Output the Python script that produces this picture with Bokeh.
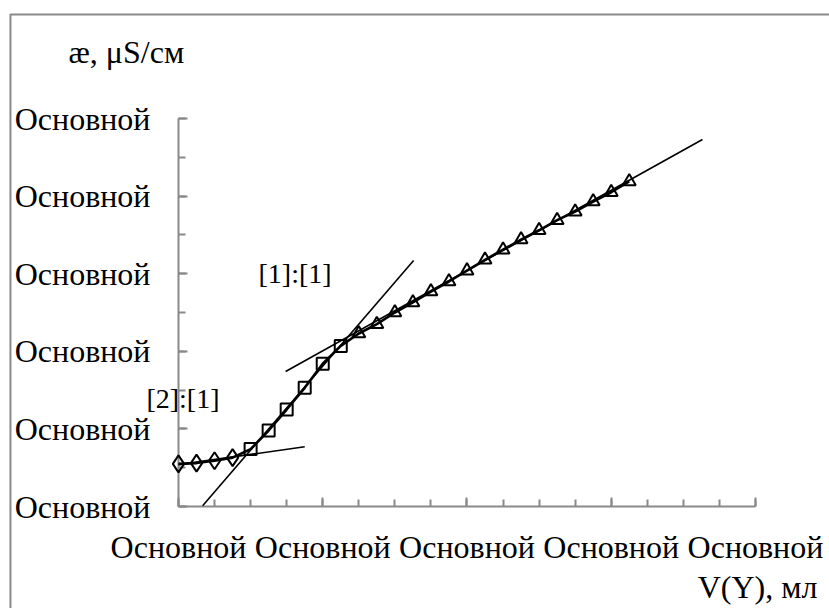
from bokeh.plotting import figure
from bokeh.models import FixedTicker, Label, BoxAnnotation
from bokeh.embed import file_html
from bokeh.resources import INLINE

# Conductometric titration: conductivity vs added titrant volume
v_diamond = [0.0, 0.5, 1.0, 1.5]
k_diamond = [0.55, 0.56, 0.59, 0.63]

v_square = [2.0, 2.5, 3.0, 3.5, 4.0, 4.5]
k_square = [0.74, 0.98, 1.25, 1.53, 1.84, 2.07]

v_triangle = [5.0, 5.5, 6.0, 6.5, 7.0, 7.5, 8.0, 8.5,
              9.0, 9.5, 10.0, 10.5, 11.0, 11.5, 12.0, 12.5]
k_triangle = [2.23, 2.35, 2.50, 2.63, 2.77, 2.90, 3.04, 3.18,
              3.31, 3.44, 3.56, 3.69, 3.80, 3.93, 4.05, 4.19]

# Straight-line fits for the three titration segments (endpoints)
fit1_v = [0.0, 3.5]
fit1_k = [0.54, 0.77]
fit2_v = [0.67, 6.52]
fit2_k = [0.01, 3.17]
fit3_v = [2.97, 14.53]
fit3_k = [1.74, 4.73]

x_major = [0, 4, 8, 12, 16]
y_major = [0, 1, 2, 3, 4, 5]
tick_text = "Основной"

FONT = "Liberation Serif"
FS = "32px"
AXIS_GRAY = "#898989"

# The frame fills the whole canvas; axes are pinned at v=0 and k=0.
p = figure(width=829, height=608, output_backend="svg", toolbar_location=None,
           x_range=(-4.936, 18.053), y_range=(-1.314, 6.521))
p.min_border = 0
p.outline_line_color = None
p.grid.grid_line_color = None
p.background_fill_color = "white"
p.border_fill_color = "white"

for ax in (p.xaxis[0], p.yaxis[0]):
    ax.axis_line_color = AXIS_GRAY
    ax.axis_line_width = 2
    ax.major_tick_line_color = AXIS_GRAY
    ax.minor_tick_line_color = AXIS_GRAY
    ax.major_tick_line_width = 2
    ax.minor_tick_line_width = 2
    ax.major_tick_in = 9
    ax.major_tick_out = 0
    ax.minor_tick_in = 7
    ax.minor_tick_out = 0
    ax.major_label_text_font = FONT
    ax.major_label_text_font_size = FS
    ax.major_label_text_color = "black"
    ax.fixed_location = 0

p.xaxis.bounds = (0, 16)
p.yaxis.bounds = (0, 5)
p.xaxis.ticker = FixedTicker(ticks=x_major, minor_ticks=list(range(0, 17)))
p.yaxis.ticker = FixedTicker(ticks=y_major, minor_ticks=[i * 0.5 for i in range(11)])
p.xaxis.major_label_overrides = {t: tick_text for t in x_major}
p.yaxis.major_label_overrides = {t: tick_text for t in y_major}
p.xaxis.major_label_standoff = 22
p.yaxis.major_label_standoff = 28

renderers = []
# fitted straight lines
for vv, kk in ((fit1_v, fit1_k), (fit2_v, fit2_k), (fit3_v, fit3_k)):
    renderers.append(p.line(vv, kk, line_color="black", line_width=1.6))

# measured curve
v_all = v_diamond + v_square + v_triangle
k_all = k_diamond + k_square + k_triangle
renderers.append(p.line(v_all, k_all, line_color="black", line_width=2.6))

renderers.append(p.scatter(v_diamond, k_diamond, marker="diamond", size=17,
                           fill_alpha=0, line_color="black", line_width=2))
renderers.append(p.scatter(v_square, k_square, marker="square", size=12,
                           fill_alpha=0, line_color="black", line_width=2))
renderers.append(p.scatter(v_triangle, k_triangle, marker="triangle", size=13,
                           fill_alpha=0, line_color="black", line_width=2))
# data drawn above the axis lines
for r in renderers:
    r.level = "overlay"

# chart frame
p.add_layout(BoxAnnotation(left=-4.66, right=30, top=6.34, bottom=-5,
                           fill_alpha=0, line_color=AXIS_GRAY, line_alpha=1,
                           line_width=2))

def txt(x, y, s, size=FS, align="left"):
    p.add_layout(Label(x=x, y=y, text=s, text_font=FONT, text_font_size=size,
                       text_color="black", text_align=align,
                       text_baseline="middle"))

txt(-3.05, 5.86, "æ, μS/см")
txt(17.72, -1.04, "V(Y), мл", align="right")
txt(2.22, 3.0, "[1]:[1]", size="28px")
txt(-0.89, 1.39, "[2]:[1]", size="28px")

open("out.html", "w").write(file_html(p, INLINE))
